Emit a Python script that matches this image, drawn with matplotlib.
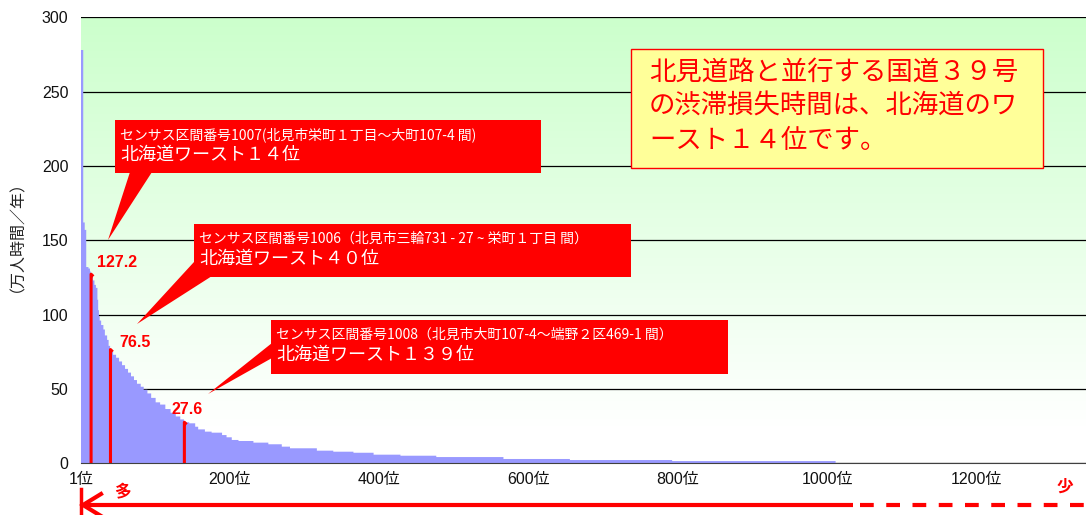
import numpy as np
import matplotlib
matplotlib.use("Agg")
from matplotlib import pyplot as plt
from matplotlib.colors import LinearSegmentedColormap
from matplotlib.patches import Polygon, Rectangle

plt.rcParams['font.family'] = ['Liberation Sans', 'Noto Sans CJK JP']
JP = ['Noto Sans CJK JP', 'DejaVu Sans']

# run-length read of the ranked bars: last rank of each step and its value
run_ends = [3, 5, 7, 10, 12, 13, 14, 16, 18, 20,
            22, 23, 24, 25, 27, 30, 32, 35, 37, 39,
            40, 43, 47, 51, 55, 59, 63, 67, 71, 75,
            80, 84, 89, 94, 100, 106, 113, 120, 127, 133,
            138, 145, 153, 157, 166, 175, 189, 195, 202, 211,
            231, 251, 269, 280, 316, 338, 365, 392, 428, 476,
            566, 655, 792, 1011]
run_vals = [278, 162, 157, 132, 131, 129, 127.2, 125, 123, 120,
            118, 110, 103, 99, 96, 93, 90, 86, 83, 79,
            76.5, 75, 73, 71, 68.5, 66, 63.5, 61, 58.5, 56,
            53.5, 51.5, 49.5, 47, 44, 41, 39.5, 36.5, 34, 31.5,
            29.5, 27.6, 26.9, 24.6, 22.8, 21.3, 20.6, 19, 17.5, 15.7,
            15, 13.9, 12.8, 11.2, 10.1, 8.5, 7.8, 7.1, 5.8, 5.1,
            4.2, 2.9, 2.2, 1.5]

mark_ranks = [14, 40, 139]
mark_vals = [127.2, 76.5, 27.6]
mark_texts = ["127.2", "76.5", "27.6"]

xtick_pos = [1, 200, 400, 600, 800, 1000, 1200]
xtick_labels = ["1位", "200位", "400位", "600位", "800位", "1000位", "1200位"]
yticks = [0, 50, 100, 150, 200, 250, 300]

callout_line1 = [
    "センサス区間番号1007(北見市栄町１丁目～大町107-4 間)",
    "センサス区間番号1006（北見市三輪731 - 27 ~ 栄町１丁目 間）",
    "センサス区間番号1008（北見市大町107-4～端野２区469-1 間）",
]
callout_line2 = ["北海道ワースト１４位", "北海道ワースト４０位", "北海道ワースト１３９位"]
note_lines = ["北見道路と並行する国道３９号", "の渋滞損失時間は、北海道のワ", "ースト１４位です。"]

counts = np.diff([0] + run_ends)
vals = np.repeat(run_vals, counts)
n = len(vals)

fig = plt.figure(figsize=(10.86, 5.15), dpi=100)
ax = fig.add_axes([81 / 1086, 1 - 463.3 / 515, 1005 / 1086, 446 / 515])

# green-to-white background
ramp = np.clip((np.linspace(0, 1, 256) - 0.08) / 0.92, 0, 1).reshape(-1, 1)
cmap = LinearSegmentedColormap.from_list("bg", ["#FFFFFF", "#CCFFCC"])
ax.imshow(ramp, extent=[0, 1, 0, 1], transform=ax.transAxes, aspect='auto',
          origin='lower', cmap=cmap, zorder=0)

ax.stairs(vals, np.arange(0.5, n + 1.5), fill=True, color='#9999FF', lw=0, zorder=2)

for r, v in zip(mark_ranks, mark_vals):
    ax.plot([r, r, r + 3], [0, v, v - 1.5], color='red', lw=2.2,
            solid_joinstyle='round', solid_capstyle='butt', zorder=3)

offsets = [(19, 3), (18, 0), (2, 4)]
for r, v, t, off in zip(mark_ranks, mark_vals, mark_texts, offsets):
    ax.annotate(t, (r, v), xytext=off, textcoords='offset points', ha='center',
                va='bottom', color='red', fontsize=11.5, fontweight='bold', zorder=4)

ax.set_xlim(0.5, 1347)
ax.set_ylim(0, 300)
ax.set_yticks(yticks)
ax.set_xticks(xtick_pos)
ax.set_xticklabels(xtick_labels)
ax.yaxis.grid(True, color='black', lw=0.9)
ax.set_axisbelow(True)
for s in ['left', 'top', 'right']:
    ax.spines[s].set_visible(False)
ax.spines['bottom'].set_color('#404040')
ax.spines['bottom'].set_zorder(3)
ax.tick_params(axis='both', length=0, labelsize=11.5, colors='#111111')
ax.tick_params(axis='y', pad=9)
ax.tick_params(axis='x', pad=6)
ax.set_ylabel("（万人時間／年）", fontsize=11.5, family=JP, color='#222222')
ax.yaxis.set_label_coords(-0.063, 0.527)

# overlay in pixel coordinates for callouts and the arrow under the axis
ov = fig.add_axes([0, 0, 1, 1])
ov.set_xlim(0, 1086)
ov.set_ylim(515, 0)
ov.axis('off')

boxes = [(115, 120, 541, 173), (194, 224, 631, 277), (271, 320, 728, 374)]
pointers = [[(130, 172), (152, 172), (108, 240)],
            [(194, 262), (212, 276), (137, 324)],
            [(272, 343), (272, 358), (208, 394)]]
for (x0, y0, x1, y1), tri, l1, l2 in zip(boxes, pointers, callout_line1, callout_line2):
    ov.add_patch(Rectangle((x0, y0), x1 - x0, y1 - y0, fc='#FF0000', ec='none'))
    ov.add_patch(Polygon(tri, closed=True, fc='#FF0000', ec='none'))
    ov.text(x0 + 5, y0 + 15, l1, color='white', fontsize=10, family=JP, va='center')
    ov.text(x0 + 5, y0 + 35, l2, color='white', fontsize=13, family=JP, va='center')

ov.add_patch(Rectangle((631, 49), 412, 119, fc='#FFFF99', ec='#FF0000', lw=1))
for i, line in enumerate(note_lines):
    ov.text(649, 72 + i * 34, line, color='#FF0000', fontsize=19, family=JP, va='center')

ov.plot([84, 853], [505, 505], color='red', lw=3, solid_capstyle='butt')
ov.plot([860, 1086], [505, 505], color='red', lw=3, linestyle=(0, (3.3, 3)))
ov.plot([101, 83, 101], [494, 505, 516], color='red', lw=3, solid_joinstyle='miter')
ov.plot([80.5, 80.5], [489, 515], color='red', lw=2.5)
ov.text(122, 491, "多", color='red', fontsize=12, fontweight='bold', family=JP,
        ha='center', va='center')
ov.text(1065, 487, "少", color='red', fontsize=12, fontweight='bold', family=JP,
        ha='center', va='center')

fig.savefig("out.png", dpi=100)
